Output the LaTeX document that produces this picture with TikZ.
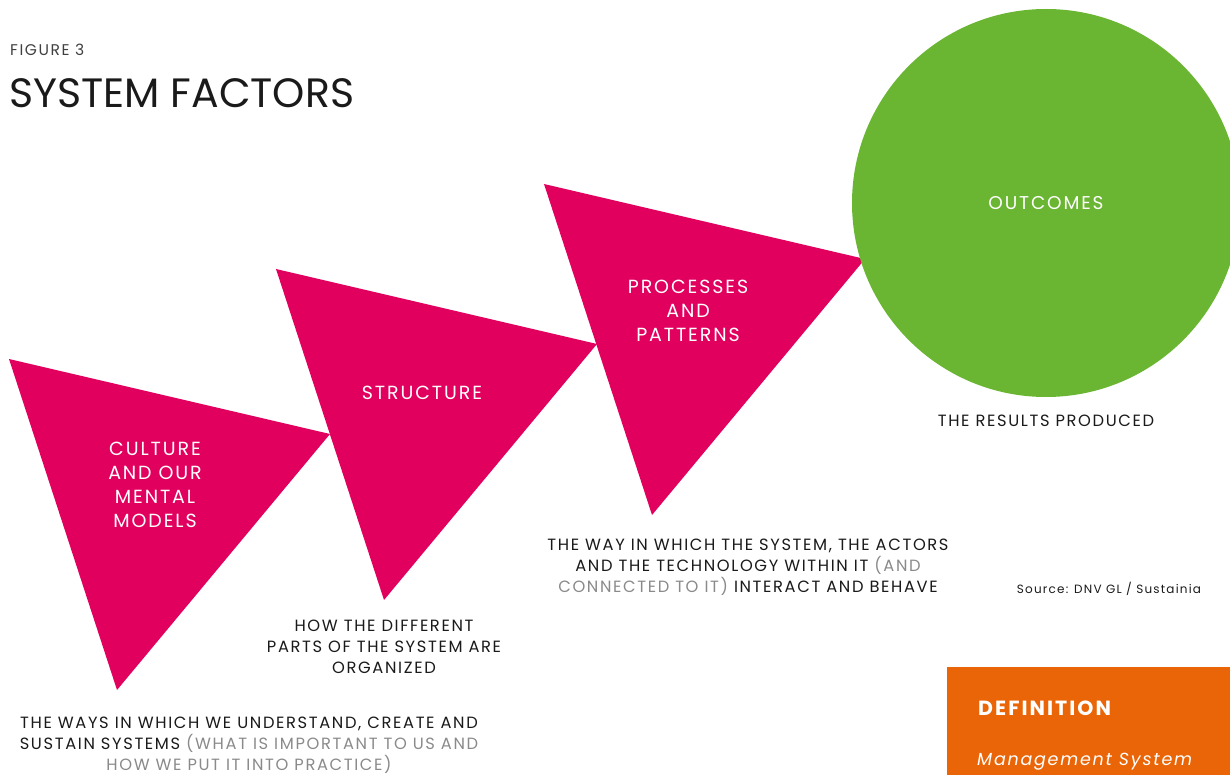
\documentclass[tikz,border=0pt]{standalone}
\usepackage{fontspec}
\setmainfont{Poppins}[LetterSpace=10]
\newfontfamily\titlefont{Poppins}

\definecolor{sfMagenta}{HTML}{E2005F}
\definecolor{sfGreen}{HTML}{6AB532}
\definecolor{sfOrange}{HTML}{EA6508}
\definecolor{sfText}{HTML}{1A1A1A}
\definecolor{sfGray}{HTML}{8A8A8A}

\begin{document}
\begin{tikzpicture}[
        x=1pt, y=-1pt,
        tri/.style={fill=sfMagenta},
        inlbl/.style={text=white, align=center, font=\fontsize{19}{24}\selectfont},
        caption/.style={text=sfText, align=center, font=\fontsize{16.3}{21}\selectfont},
        head/.style={anchor=west, text=sfText, inner sep=0pt}
    ]
        \useasboundingbox (0,0) rectangle (1230,775);
        \clip (0,0) rectangle (1230,775);

        % ========================================================
        % TITULO
        % ========================================================
        \node[head, font=\fontsize{15.5}{18}\selectfont, text=black!75] (fig) at (10,50) {FIGURE 3};
        \node[head, font=\titlefont\fontsize{41}{44}\selectfont] (title) at (9,93) {SYSTEM FACTORS};

        % ========================================================
        % TRIANGULOS
        % ========================================================
        \fill[tri] (9,359) -- (330,434) -- (117,690) -- cycle;
        \fill[tri] (276,269) -- (597,344) -- (384,600) -- cycle;
        \fill[tri] (544,184) -- (865,259) -- (652,515) -- cycle;

        \node[inlbl] (culture) at (155,485) {CULTURE\\AND OUR\\MENTAL\\MODELS};
        \node[inlbl] (structure) at (422,393) {STRUCTURE};
        \node[inlbl] (processes) at (688,311) {PROCESSES\\AND\\PATTERNS};

        % ========================================================
        % RESULTADO
        % ========================================================
        \node[circle, fill=sfGreen, minimum size=388, inner sep=0pt, text=white,
              font=\fontsize{18.5}{20}\selectfont] (outcomes) at (1046,203) {OUTCOMES};

        % ========================================================
        % DESCRIPCIONES
        % ========================================================
        \node[caption] (capCulture) at (249,745) {THE WAYS IN WHICH WE UNDERSTAND, CREATE AND\\
            SUSTAIN SYSTEMS \textcolor{sfGray}{(WHAT IS IMPORTANT TO US AND}\\
            \textcolor{sfGray}{HOW WE PUT IT INTO PRACTICE)}};
        \node[caption] (capStructure) at (384,647) {HOW THE DIFFERENT\\PARTS OF THE SYSTEM ARE\\ORGANIZED};
        \node[caption] (capProcesses) at (748,567) {THE WAY IN WHICH THE SYSTEM, THE ACTORS\\
            AND THE TECHNOLOGY WITHIN IT \textcolor{sfGray}{(AND}\\
            \textcolor{sfGray}{CONNECTED TO IT)} INTERACT AND BEHAVE};
        \node[caption] (capOutcomes) at (1046,421) {THE RESULTS PRODUCED};

        \node[text=sfText, font=\fontsize{12}{15}\selectfont] (source) at (1109,589) {Source: DNV GL / Sustainia};

        % ========================================================
        % DEFINICION
        % ========================================================
        \fill[sfOrange] (947,667) rectangle (1230,775);
        \node[anchor=west, inner sep=0pt, text=white, font=\fontsize{20.5}{22}\selectfont\bfseries] (defTitle) at (978,708) {DEFINITION};
        \node[anchor=west, inner sep=0pt, text=white, font=\fontsize{17.5}{22}\selectfont\itshape] (defTerm) at (977,762) {Management System};

    \end{tikzpicture}
\end{document}
